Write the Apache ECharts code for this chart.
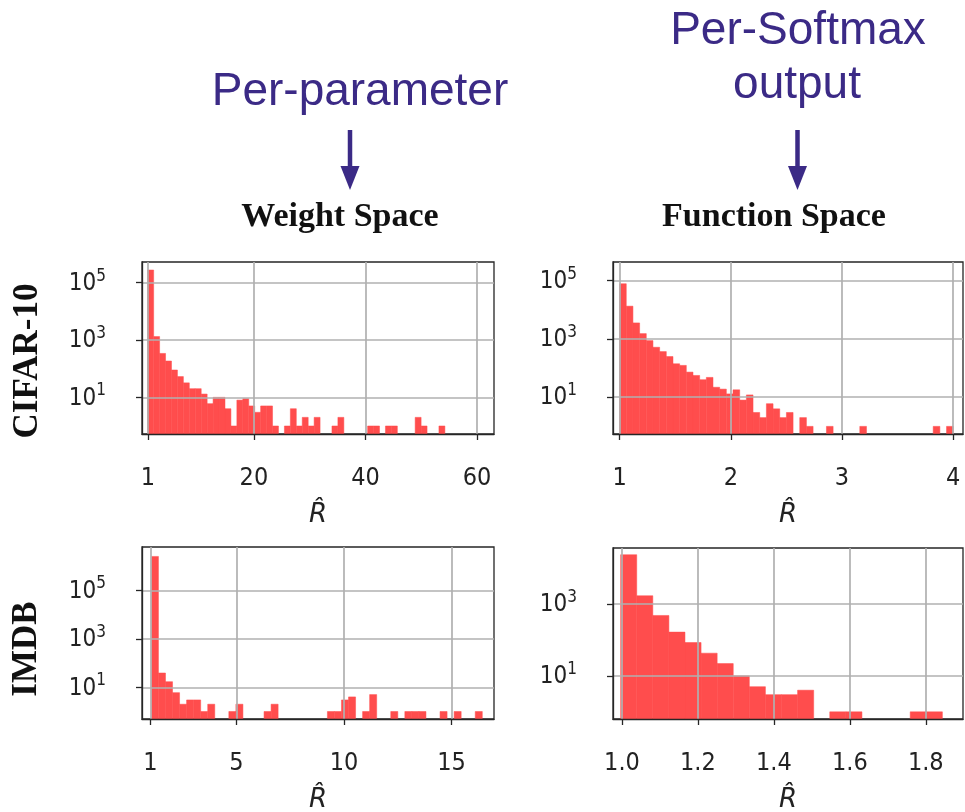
<!DOCTYPE html>
<html>
<head>
<meta charset="utf-8">
<script src="https://cdn.jsdelivr.net/npm/echarts@6/dist/echarts.min.js"></script>
<style>
html,body{margin:0;padding:0;background:#ffffff;}
#chart{width:965px;height:812px;}
</style>
</head>
<body>
<div id="chart"></div>
<script>
// ---------- data ----------
// CIFAR-10, weight space: 50 bins
const cifarWeightBinStart = 0.95;
const cifarWeightBinWidth = 1.066;
const cifarWeightCounts = [277000, 1320, 340, 185, 90, 53, 32, 20, 20, 13,
  6, 10, 10, 4, 1, 8, 9, 5, 3, 5,
  5, 1, 0, 1, 4, 1, 2, 1, 2, 0,
  0, 1, 2, 0, 0, 0, 0, 1, 1, 0,
  1, 1, 0, 0, 0, 2, 1, 0, 0, 1];
const cifarWeightXTicks = [1, 20, 40, 60];

// CIFAR-10, function space: 50 bins
const cifarFuncBinStart = 1.0;
const cifarFuncBinWidth = 0.06;
const cifarFuncCounts = [78900, 13400, 3560, 1530, 880, 520, 370, 250, 141, 124,
  73, 56, 40, 48, 22, 19, 13, 18, 8, 12,
  3, 2, 6, 4, 2, 3, 0, 2, 1, 0,
  0, 1, 0, 0, 0, 0, 1, 0, 0, 0,
  0, 0, 0, 0, 0, 0, 0, 1, 0, 1];
const cifarFuncXTicks = [1, 2, 3, 4];

// IMDB, weight space: 47 bins
const imdbWeightBinStart = 1.047;
const imdbWeightBinWidth = 0.3272;
const imdbWeightCounts = [2550000, 39, 17, 6, 2, 3, 3, 1, 2, 0,
  0, 1, 2, 0, 0, 0, 1, 2, 0, 0,
  0, 0, 0, 0, 0, 1, 1, 3, 4, 0,
  1, 5, 0, 0, 1, 0, 1, 1, 1, 0,
  0, 1, 0, 1, 0, 0, 1];
const imdbWeightXTicks = [1, 5, 10, 15];

// IMDB, function space: 20 bins
const imdbFuncBinStart = 0.9965;
const imdbFuncBinWidth = 0.04236;
const imdbFuncCounts = [23800, 1710, 483, 166, 85, 43, 22, 10, 5, 3,
  3, 4, 0, 1, 1, 0, 0, 0, 1, 1];
const imdbFuncXTicks = [1.0, 1.2, 1.4, 1.6, 1.8];

const logYTicks = [10, 1000, 100000];
const columnTitles = ['Weight Space', 'Function Space'];
const rowTitles = ['CIFAR-10', 'IMDB'];
const annotationTop = ['Per-parameter', 'Per-Softmax', 'output'];
const axisName = 'R\u0302';

// ---------- styling / layout ----------
const BAR = '#ff4d4d';
const FRAME = '#262626';
const GRIDC = '#b0b0b0';
const PURPLE = '#3b2a86';
const TICKFONT = '"DejaVu Sans Condensed", "DejaVu Sans", sans-serif';

function binsOf(start, width, counts) {
  const out = [];
  counts.forEach((c, i) => {
    if (c > 0) out.push([start + i * width, start + (i + 1) * width, c]);
  });
  return out;
}

const panels = [
  { box: [142, 262, 352, 172], xMin: -0.075, xMax: 63.06, yMin: 0.525, yMax: 527000,
    bins: binsOf(cifarWeightBinStart, cifarWeightBinWidth, cifarWeightCounts),
    xTicks: cifarWeightXTicks, fmt: v => String(Math.round(v)) },
  { box: [613, 262, 350, 172], xMin: 0.9407, xMax: 4.088, yMin: 0.547, yMax: 440000,
    bins: binsOf(cifarFuncBinStart, cifarFuncBinWidth, cifarFuncCounts),
    xTicks: cifarFuncXTicks, fmt: v => String(Math.round(v)) },
  { box: [142, 547, 352, 172], xMin: 0.61, xMax: 16.97, yMin: 0.49, yMax: 6250000,
    bins: binsOf(imdbWeightBinStart, imdbWeightBinWidth, imdbWeightCounts),
    xTicks: imdbWeightXTicks, fmt: v => String(Math.round(v)) },
  { box: [613, 548, 350, 171], xMin: 0.9764, xMax: 1.898, yMin: 0.63, yMax: 36600,
    bins: binsOf(imdbFuncBinStart, imdbFuncBinWidth, imdbFuncCounts),
    xTicks: imdbFuncXTicks, fmt: v => Number(v).toFixed(1) }
];

function logLabel(v) {
  const e = Math.round(Math.log10(v));
  return '{b|10}{s|' + e + '}';
}

function renderHist(params, api) {
  const x0 = api.value(0), x1 = api.value(1), c = api.value(2);
  const p0 = api.coord([x0, c]);
  const p1 = api.coord([x1, c]);
  const bottom = params.coordSys.y + params.coordSys.height;
  return {
    type: 'rect',
    shape: { x: p0[0], y: p0[1], width: p1[0] - p0[0], height: bottom - p0[1] },
    style: { fill: BAR, stroke: BAR, lineWidth: 0.5 }
  };
}

const grids = [], xAxes = [], yAxes = [], series = [];
panels.forEach((p, i) => {
  grids.push({ left: p.box[0], top: p.box[1], width: p.box[2], height: p.box[3],
    show: true, borderColor: FRAME, borderWidth: 1.3, backgroundColor: 'transparent',
    containLabel: false, outerBoundsMode: 'none' });
  xAxes.push({
    gridIndex: i, type: 'value', min: p.xMin, max: p.xMax, z: 5,
    axisLine: { show: true, onZero: false, lineStyle: { color: FRAME, width: 1.3 } },
    axisTick: { show: true, inside: false, length: 6, customValues: p.xTicks,
      lineStyle: { color: FRAME, width: 1.3 } },
    axisLabel: { show: true, customValues: p.xTicks, formatter: p.fmt, margin: 32,
      fontSize: 25, color: '#222', fontFamily: TICKFONT },
    splitLine: { show: true, lineStyle: { color: GRIDC, width: 1.7 } },
    name: axisName, nameLocation: 'middle', nameGap: 68,
    nameTextStyle: { fontSize: 26, fontStyle: 'italic', fontFamily: '"DejaVu Sans", sans-serif', color: '#222' }
  });
  const yt = logYTicks.filter(t => t >= p.yMin && t <= p.yMax);
  yAxes.push({
    gridIndex: i, type: 'log', logBase: 10, min: p.yMin, max: p.yMax, z: 5,
    axisLine: { show: true, onZero: false, lineStyle: { color: FRAME, width: 1.3 } },
    axisTick: { show: true, inside: false, length: 6, customValues: yt,
      lineStyle: { color: FRAME, width: 1.3 } },
    axisLabel: { show: true, customValues: yt, formatter: logLabel, margin: 36,
      color: '#222',
      rich: {
        b: { fontSize: 24, fontFamily: TICKFONT, color: '#222', lineHeight: 30, verticalAlign: 'bottom', padding: [0, 0, 2, 0] },
        s: { fontSize: 17, fontFamily: TICKFONT, color: '#222', lineHeight: 17, verticalAlign: 'top' }
      } },
    splitLine: { show: true, lineStyle: { color: GRIDC, width: 1.7 } },
    minorTick: { show: false }, minorSplitLine: { show: false }
  });
  series.push({
    type: 'custom', xAxisIndex: i, yAxisIndex: i, z: 2,
    renderItem: renderHist, encode: { x: [0, 1], y: 2 }, data: p.bins, silent: true
  });
});

function txt(x, y, text, font, fill, rotation) {
  return { type: 'text', x: x, y: y, rotation: rotation || 0, silent: true,
    style: { text: text, font: font, fill: fill, align: 'center', verticalAlign: 'middle',
      textAlign: 'center', textVerticalAlign: 'middle' } };
}
const purpleFont = '46px "Liberation Sans", Arial, sans-serif';
const titleFont = 'bold 34px "Liberation Serif", "Times New Roman", serif';
const rowFont = 'bold 35px "Liberation Serif", "Times New Roman", serif';

const graphic = [
  txt(360, 92, annotationTop[0], purpleFont, PURPLE),
  txt(798, 31, annotationTop[1], purpleFont, PURPLE),
  txt(797, 85, annotationTop[2], purpleFont, PURPLE),
  { type: 'line', silent: true, shape: { x1: 350, y1: 130, x2: 350, y2: 170 }, style: { stroke: PURPLE, lineWidth: 4.5 } },
  { type: 'polygon', silent: true, shape: { points: [[340.5, 166], [359.5, 166], [350, 190]] }, style: { fill: PURPLE } },
  { type: 'line', silent: true, shape: { x1: 797.5, y1: 130, x2: 797.5, y2: 170 }, style: { stroke: PURPLE, lineWidth: 4.5 } },
  { type: 'polygon', silent: true, shape: { points: [[788, 166], [807, 166], [797.5, 190]] }, style: { fill: PURPLE } },
  txt(340, 217, columnTitles[0], titleFont, '#111'),
  txt(774, 217, columnTitles[1], titleFont, '#111'),
  txt(28, 361, rowTitles[0], rowFont, '#111', Math.PI / 2),
  txt(27, 649, rowTitles[1], rowFont, '#111', Math.PI / 2)
];

const chart = echarts.init(document.getElementById('chart'), null, { renderer: 'canvas' });
chart.setOption({
  animation: false,
  backgroundColor: '#ffffff',
  grid: grids,
  xAxis: xAxes,
  yAxis: yAxes,
  series: series,
  graphic: graphic
});
</script>
</body>
</html>
